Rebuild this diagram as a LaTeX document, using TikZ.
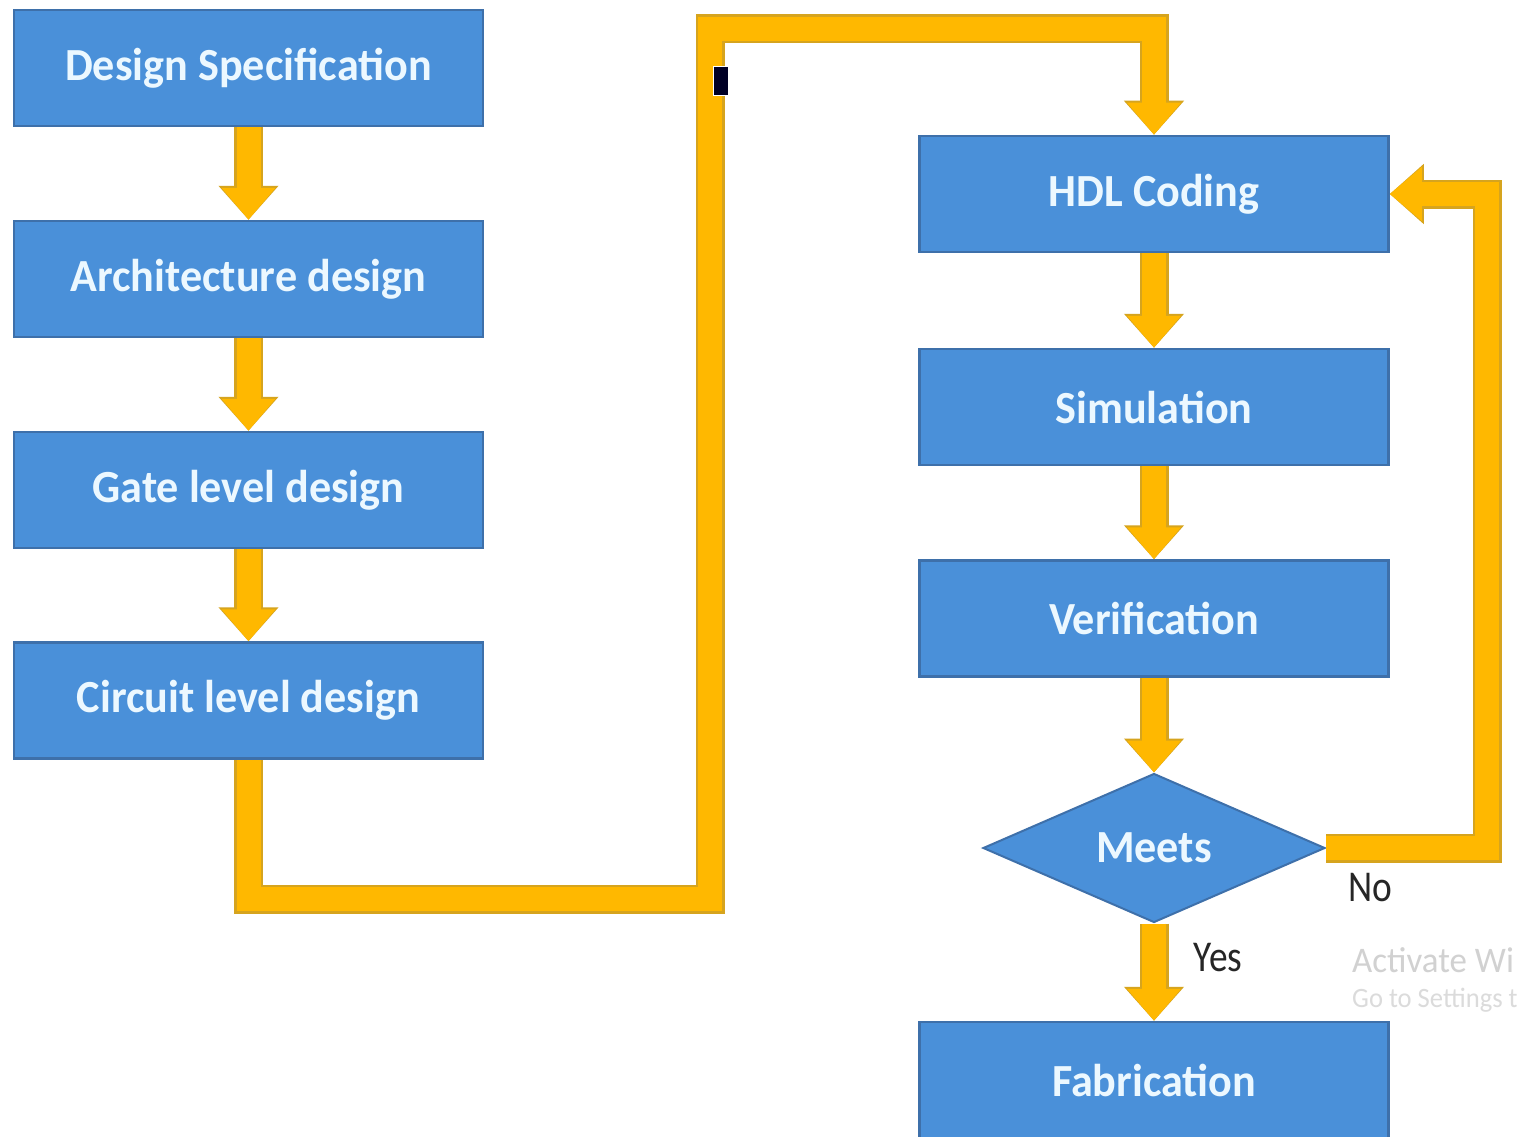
\documentclass[tikz,border=0pt]{standalone}
\usepackage{fontspec}
\setmainfont{Carlito}
\usetikzlibrary{shapes.geometric,arrows.meta}
\definecolor{boxblue}{RGB}{74,144,217}
\definecolor{boxedge}{RGB}{62,112,170}
\definecolor{arrfill}{RGB}{255,184,0}
\definecolor{arredge}{RGB}{214,164,30}
\definecolor{txtwhite}{RGB}{236,248,255}
\begin{document}
\begin{tikzpicture}[x=1pt,y=-1pt,
  stepbox/.style={rectangle, draw=boxedge, line width=2.5pt, fill=boxblue,
    minimum width=469pt, minimum height=116pt, inner sep=0pt,
    text=txtwhite, font=\fontsize{46}{52}\selectfont\bfseries},
  decision/.style={diamond, draw=boxedge, line width=2pt, fill=boxblue,
    minimum width=342pt, minimum height=149pt, inner sep=0pt,
    text=txtwhite, font=\fontsize{46}{52}\selectfont\bfseries},
  lbl/.style={font=\fontsize{44}{50}\selectfont, text=black!85, inner sep=0pt},
  conn/.style={draw=arrfill, line width=24pt, line join=miter,
    -{Triangle[length=32pt,width=52pt]},
    preaction={draw=arredge, line width=29pt, line join=miter,
      -{Triangle[length=34pt,width=58pt]}}},
  btxt/.style={yshift=-3pt},
]
\useasboundingbox (0,0) rectangle (1520,1137);
\fill[white] (0,0) rectangle (1520,1137);

% left column
\node[stepbox] (spec) at (248.5,68) {\raisebox{-3pt}{\scalebox{0.96}[1]{Design Specification}}};
\node[stepbox] (arch) at (248.5,279) {\raisebox{-3pt}{\scalebox{0.96}[1]{Architecture design}}};
\node[stepbox] (gate) at (248.5,490) {\raisebox{-3pt}{\scalebox{0.96}[1]{Gate level design}}};
\node[stepbox] (circ) at (248.5,700.5) {\raisebox{-3pt}{\scalebox{0.96}[1]{Circuit level design}}};

% right column
\node[stepbox] (hdl) at (1154,194) {\raisebox{-3pt}{\scalebox{0.96}[1]{HDL Coding}}};
\node[stepbox] (sim) at (1154,407) {\raisebox{-3pt}{\scalebox{0.96}[1]{Simulation}}};
\node[stepbox] (ver) at (1154,618.5) {\raisebox{-3pt}{\scalebox{0.96}[1]{Verification}}};
\node[decision] (meets) at (1154,848) {\raisebox{-3pt}{\scalebox{0.96}[1]{Meets}}};
\node[stepbox] (fab) at (1154,1080) {\raisebox{-3pt}{\scalebox{0.96}[1]{Fabrication}}};

% helper coordinates
\coordinate (c2) at (710,899);
\coordinate (c3) at (710,29);
\coordinate (noc) at (1487,194);

% connectors
\draw[conn] (spec.south) -- (arch.north);
\draw[conn] (arch.south) -- (gate.north);
\draw[conn] (gate.south) -- (circ.north);
\draw[conn] (circ.south) |- (c2) -- (c3) -| (hdl.north);
\draw[conn] (hdl.south) -- (sim.north);
\draw[conn] (sim.south) -- (ver.north);
\draw[conn] (ver.south) -- (meets.north);
\draw[conn] (meets.south) -- (fab.north);
\draw[conn] (meets.east) -| (noc) -- (hdl.east);

% labels
\node[lbl] (no) at (1370,888) {\scalebox{0.85}[1]{No}};
\node[lbl] (yes) at (1218,958) {\scalebox{0.85}[1]{Yes}};

% selection handle artifact
\fill[black!85!blue, draw=white, line width=1pt] (713,67) rectangle (728,96);

% faint watermark
\node[anchor=west, inner sep=0pt, text=black!18, font=\fontsize{36}{40}\selectfont] (wm1) at (1352,960) {\scalebox{0.97}[1]{Activate Wi}};
\node[anchor=west, inner sep=0pt, text=black!14, font=\fontsize{28}{32}\selectfont] (wm2) at (1352,1000) {\scalebox{0.95}[1]{Go to Settings t}};
\end{tikzpicture}
\end{document}
